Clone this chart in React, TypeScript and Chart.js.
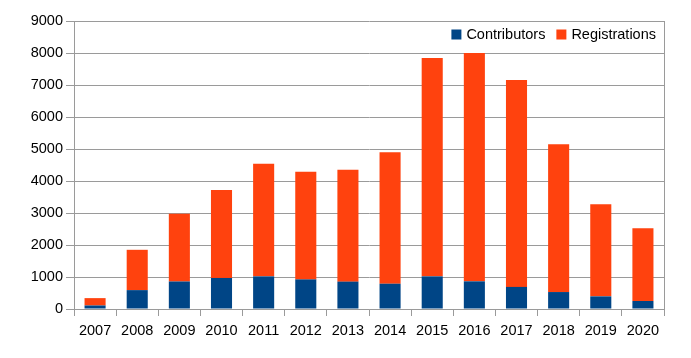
import React, { useEffect, useRef } from "react";
import { Chart, registerables } from "chart.js";

Chart.register(...registerables);

const years = ["2007", "2008", "2009", "2010", "2011", "2012", "2013", "2014", "2015", "2016", "2017", "2018", "2019", "2020"];
const contributors = [110, 590, 860, 970, 1020, 925, 855, 790, 1020, 865, 690, 530, 395, 250];
const registrations = [230, 1260, 2120, 2750, 3520, 3365, 3495, 4105, 6825, 7135, 6465, 4615, 2875, 2270];
const yMax = 9000;
const yStep = 1000;

const GRID = "#9a9a9a";
const FAMILY = "'Liberation Sans', Arial, sans-serif";
const FONT = { family: FAMILY, size: 14.5 };

const insideLegend = {
  id: "insideLegend",
  afterDraw(chart: any) {
    const { ctx, chartArea } = chart;
    const sets = chart.data.datasets;
    ctx.save();
    ctx.font = `${FONT.size}px ${FAMILY}`;
    ctx.textBaseline = "middle";
    ctx.textAlign = "left";
    const cy = chartArea.top + 13.5;
    let x = chartArea.right - 8;
    for (let i = sets.length - 1; i >= 0; i--) {
      const label = sets[i].label;
      const w = ctx.measureText(label).width;
      x -= w;
      ctx.fillStyle = "#000";
      ctx.fillText(label, x, cy + 0.5);
      x -= 5 + 10;
      ctx.fillStyle = sets[i].backgroundColor;
      ctx.fillRect(x, cy - 5, 10, 10);
      x -= 11;
    }
    ctx.restore();
  },
};

export default function App() {
  const ref = useRef<HTMLCanvasElement | null>(null);
  useEffect(() => {
    if (!ref.current) return;
    const chart = new Chart(ref.current, {
      type: "bar",
      data: {
        labels: years,
        datasets: [
          { label: "Contributors", data: contributors, backgroundColor: "#004586", borderWidth: 0 },
          { label: "Registrations", data: registrations, backgroundColor: "#ff420e", borderWidth: 0 },
        ],
      },
      options: {
        responsive: false,
        animation: false,
        layout: { padding: { left: 0, right: 27, top: 21, bottom: 0 } },
        datasets: { bar: { barPercentage: 0.5, categoryPercentage: 1 } },
        plugins: {
          tooltip: { enabled: false },
          legend: { display: false },
        },
        scales: {
          x: {
            stacked: true,
            offset: true,
            grid: {
              offset: true,
              drawOnChartArea: true,
              color: (ctx: any) => (ctx.type === "scale" || ctx.index === undefined ? GRID : "rgba(0,0,0,0)"),
              tickColor: GRID,
              tickLength: 7,
            },
            border: { color: GRID },
            ticks: { color: "#000", font: FONT, padding: 6, maxRotation: 0, autoSkip: false },
            afterFit: (s: any) => { s.height = 49; },
          },
          y: {
            stacked: true,
            min: 0,
            max: yMax,
            grid: { color: GRID, tickColor: GRID, tickLength: 8 },
            border: { color: GRID },
            ticks: { stepSize: yStep, color: "#000", font: FONT, padding: 3, callback: (v: any) => String(v) },
            afterFit: (s: any) => { s.width = 74; },
          },
        },
      },
      plugins: [insideLegend],
    } as any);
    return () => chart.destroy();
  }, []);
  return (
    <div style={{ position: "fixed", left: 0, top: 0, width: 691, height: 358, background: "#fff" }}>
      <canvas ref={ref} width={691} height={358} style={{ width: 691, height: 358 }} />
    </div>
  );
}
